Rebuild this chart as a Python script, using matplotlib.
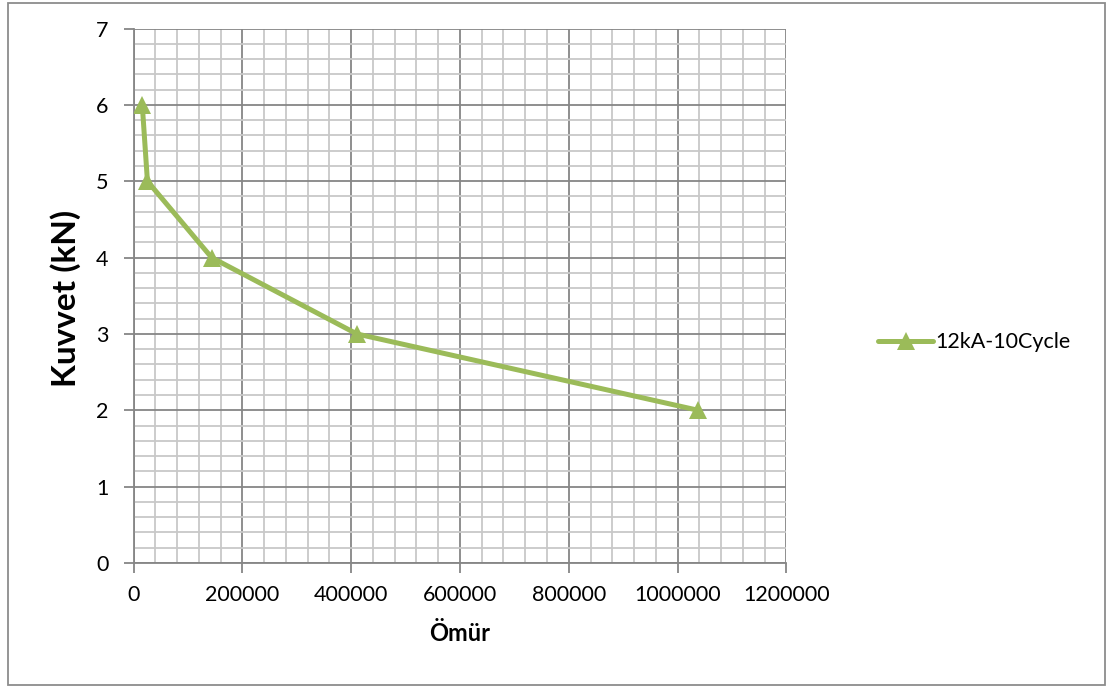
import matplotlib.pyplot as plt
from matplotlib.patches import Rectangle
from matplotlib.ticker import MultipleLocator

# data
omur = [16000, 25500, 143500, 410500, 1038000]
kuvvet = [6, 5, 4, 3, 2]
series_name = '12kA-10Cycle'

GREEN = '#9BBB59'
MAJOR = '#868686'
MINOR = '#C8C8C8'

plt.rcParams['font.family'] = ['Lato', 'DejaVu Sans']

fig = plt.figure(figsize=(11.13, 6.87), dpi=100)
ax = fig.add_axes([0.12, 0.1805, 0.5865, 0.778])

ax.plot(omur, kuvvet, color=GREEN, lw=3.6, marker='^', ms=13,
        markeredgewidth=0, label=series_name, solid_capstyle='round', zorder=3)

ax.set_xlim(0, 1200000)
ax.set_ylim(0, 7)
ax.xaxis.set_major_locator(MultipleLocator(200000))
ax.xaxis.set_minor_locator(MultipleLocator(40000))
ax.yaxis.set_major_locator(MultipleLocator(1))
ax.yaxis.set_minor_locator(MultipleLocator(0.2))

ax.grid(which='minor', color=MINOR, lw=1.3, zorder=0)
ax.grid(which='major', color=MAJOR, lw=1.3, zorder=1)
ax.set_axisbelow(True)

for side in ['top', 'right']:
    ax.spines[side].set_visible(False)
for side in ['left', 'bottom']:
    ax.spines[side].set_color(MAJOR)
    ax.spines[side].set_linewidth(1.3)

ax.tick_params(which='major', length=7, width=1.3, color=MAJOR, labelsize=15.5)
ax.tick_params(axis='x', pad=9)
ax.tick_params(axis='y', pad=11)
ax.tick_params(which='minor', length=0)
ax.ticklabel_format(style='plain', axis='x')

ax.set_xlabel('Ömür', fontsize=17, fontweight='bold', labelpad=12)
ax.set_ylabel('Kuvvet (kN)', fontsize=24, fontweight='bold')
# rotated label is anchored on its right edge
ax.yaxis.set_label_coords(-0.08, 0.495)

ax.legend(loc='center left', bbox_to_anchor=(1.11, 0.413), frameon=False,
          fontsize=15.5, handlelength=2.6, handletextpad=0.1)

# outer chart border
fig.patches.append(Rectangle((8 / 1113, 2 / 687), 1097 / 1113, 682 / 687,
                             transform=fig.transFigure, fill=False,
                             edgecolor='#8C8C8C', lw=1.3))

fig.savefig('out.png', dpi=100)
